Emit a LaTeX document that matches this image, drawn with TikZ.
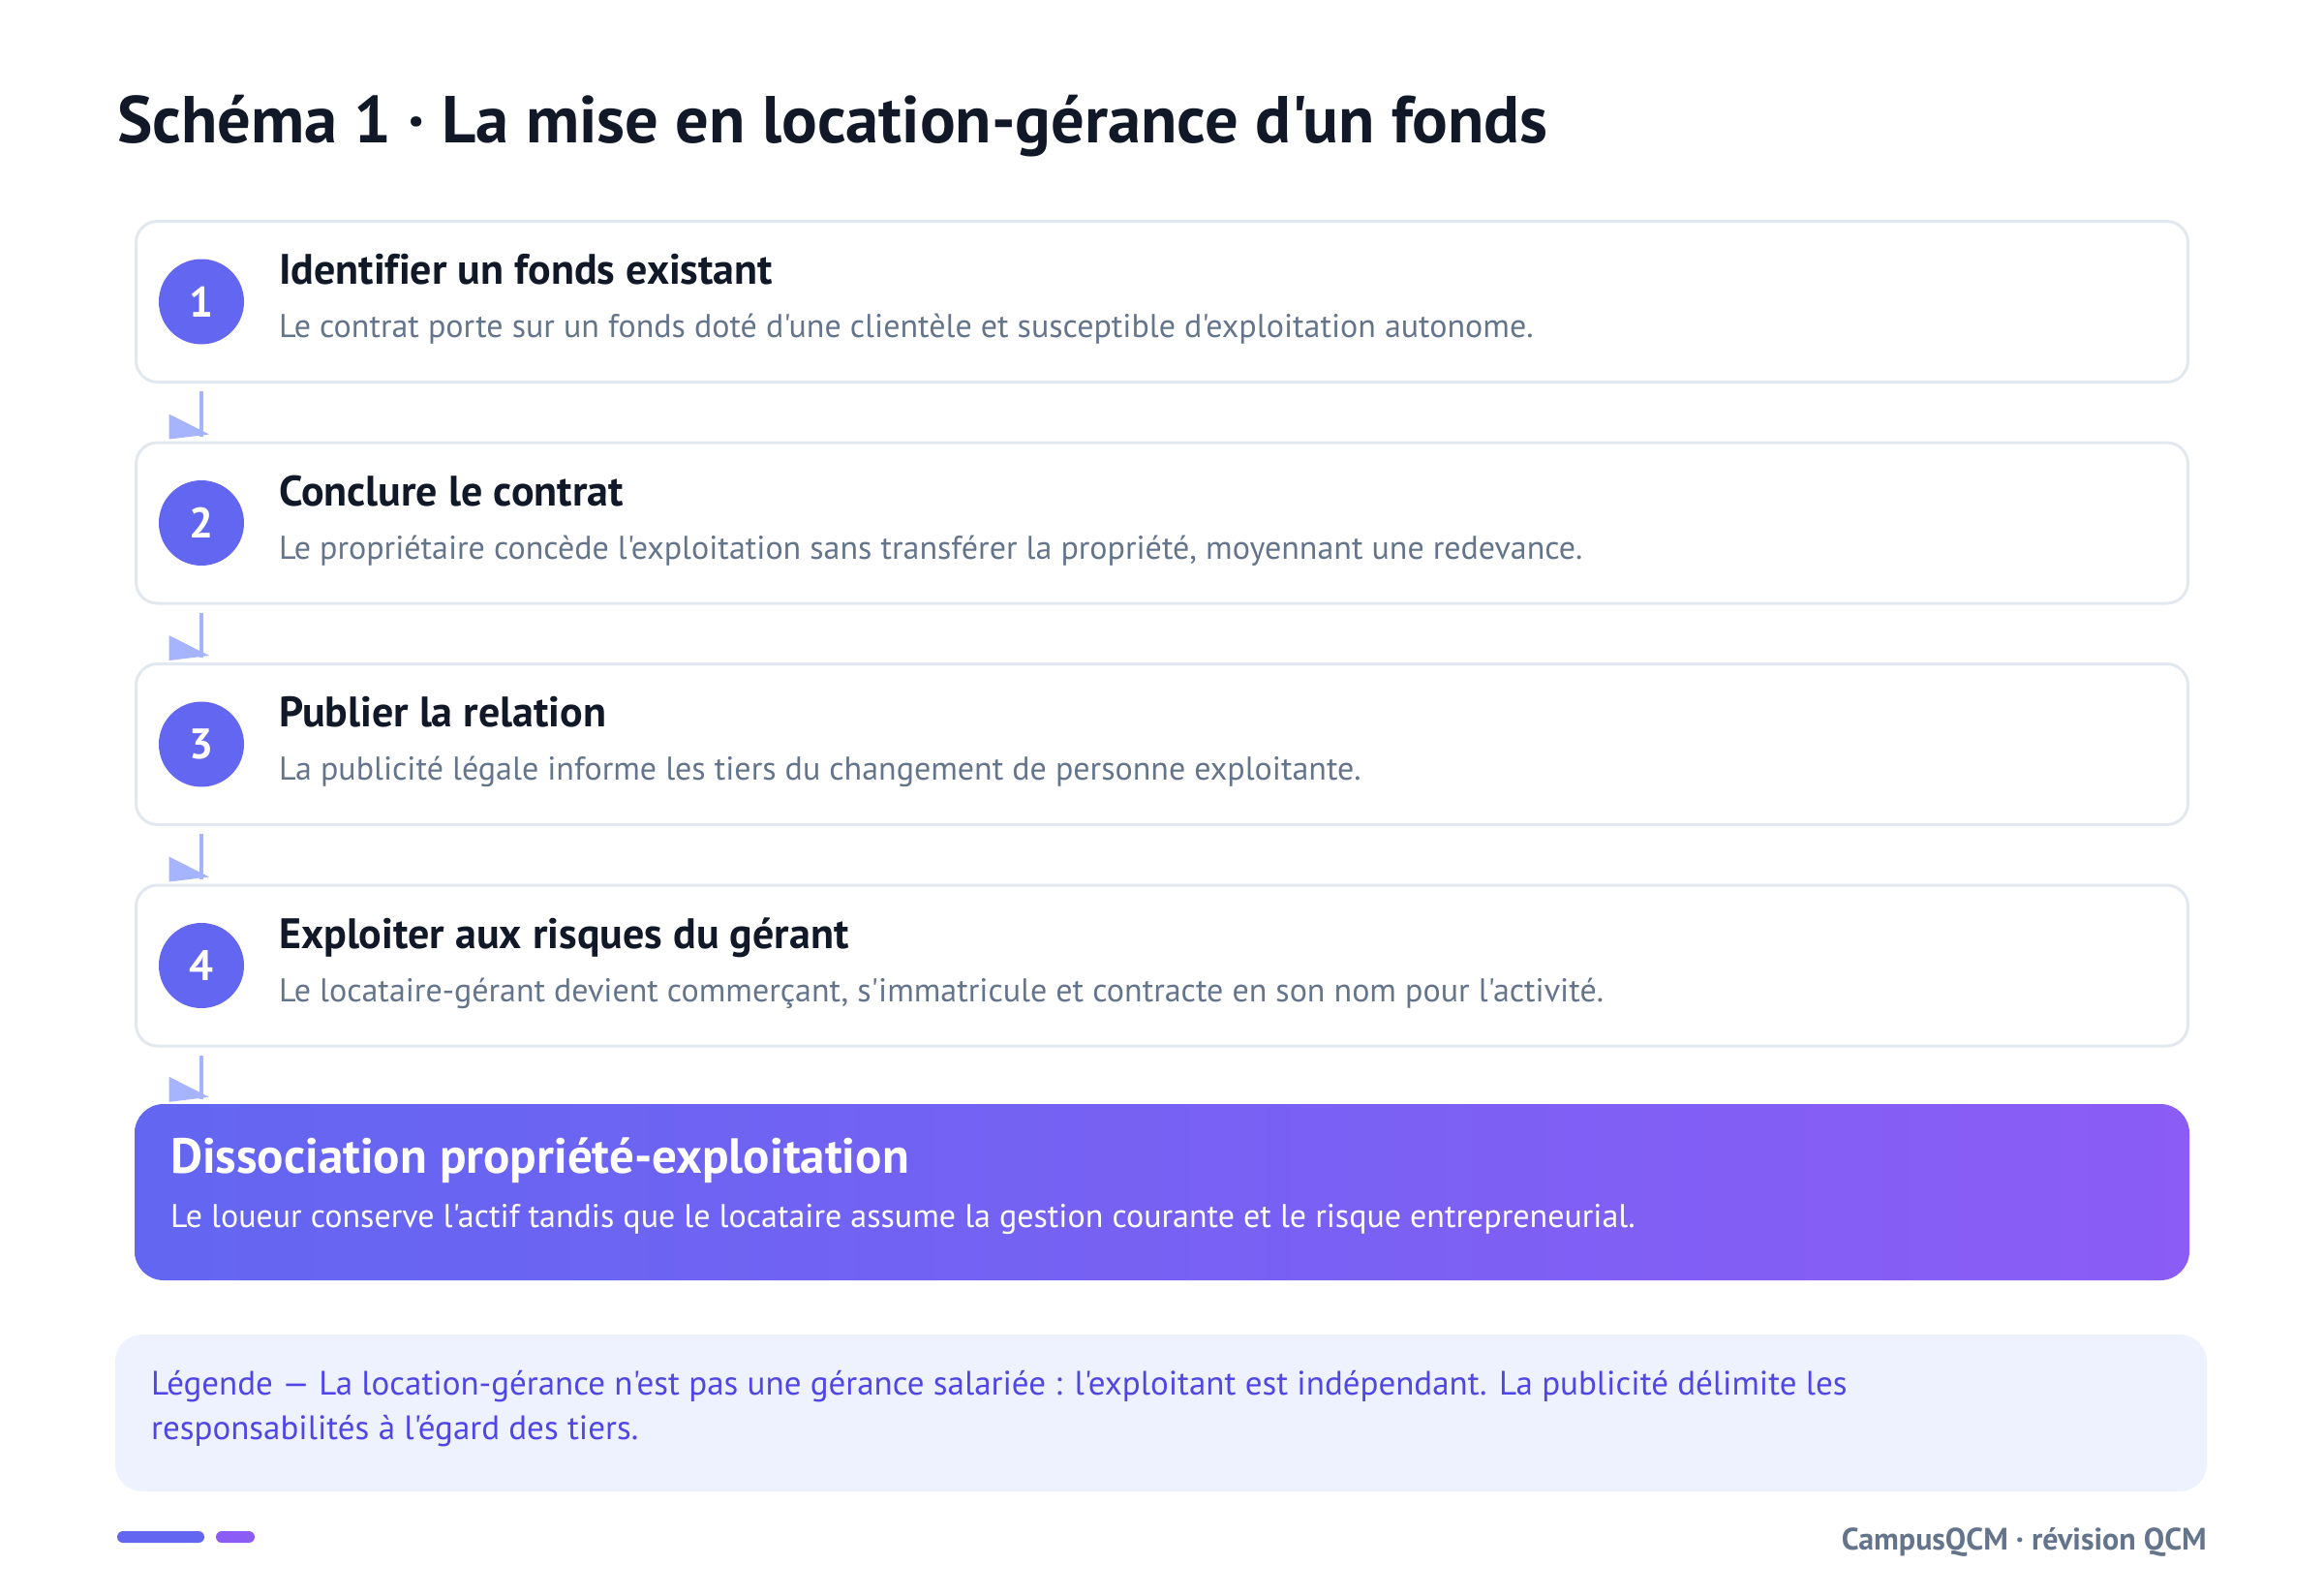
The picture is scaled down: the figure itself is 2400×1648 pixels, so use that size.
\documentclass[tikz,border=0pt]{standalone}
\usepackage{fontspec}
\setmainfont{PT Sans}[Ligatures={TeXOff,CommonOff}]
\usetikzlibrary{positioning,calc}

\definecolor{inkdark}{HTML}{111827}
\definecolor{greytext}{HTML}{64748B}
\definecolor{cardline}{HTML}{E2E8F0}
\definecolor{stepindigo}{HTML}{6366F1}
\definecolor{stepviolet}{HTML}{8B5CF6}
\definecolor{flowblue}{HTML}{A5B4FC}
\definecolor{legendbg}{HTML}{EEF2FF}
\definecolor{legendtext}{HTML}{4F46E5}

\tikzset{
	stepcard/.style={draw=cardline, line width=3pt, fill=white, rounded corners=22pt,
			minimum width=2119pt, minimum height=166pt, inner sep=0pt},
	stepnum/.style={circle, fill=stepindigo, text=white, minimum size=88pt, inner sep=0pt,
			font=\fontsize{44}{52}\selectfont\bfseries},
	stephead/.style={anchor=base west, inner sep=0pt, text=inkdark,
			font=\fontsize{44}{52}\selectfont\bfseries},
	stepdesc/.style={anchor=base west, inner sep=0pt, text=greytext,
			font=\fontsize{34}{40}\selectfont},
	flowline/.style={draw=flowblue, line width=4pt},
	flowhead/.style={fill=flowblue},
}

\begin{document}
\begin{tikzpicture}[x=1pt,y=-1pt]
	\fill[white] (0,0) rectangle (2400,1648);
	\useasboundingbox (0,0) rectangle (2400,1648);

	\node[anchor=base west, inner sep=0pt, text=inkdark, font=\fontsize{68.5}{78}\selectfont\bfseries]
	(title) at (121,148) {Schéma 1 · La mise en location-gérance d'un fonds};

	\foreach \i/\head/\desc in {
			1/{Identifier un fonds existant}/{Le contrat porte sur un fonds doté d'une clientèle et susceptible d'exploitation autonome.},
			2/{Conclure le contrat}/{Le propriétaire concède l'exploitation sans transférer la propriété, moyennant une redevance.},
			3/{Publier la relation}/{La publicité légale informe les tiers du changement de personne exploitante.},
			4/{Exploiter aux risques du gérant}/{Le locataire-gérant devient commerçant, s'immatricule et contracte en son nom pour l'activité.}} {
			\node[stepcard] (card\i) at (1200,{311.5+228.5*(\i-1)}) {};
			\node[stepnum] (num\i) at (208,{311.5+228.5*(\i-1)}) {\i};
			\node[stephead] (head\i) at (288,{293.5+228.5*(\i-1)}) {\head};
			\node[stepdesc] (desc\i) at (288,{348.5+228.5*(\i-1)}) {\desc};
		}

	% bloc final
	\node[minimum width=2122pt, minimum height=182pt, inner sep=0pt, rounded corners=30pt,
		left color=stepindigo, right color=stepviolet] (card5) at (1200,1231) {};
	\node[anchor=base west, inner sep=0pt, text=white, font=\fontsize{51}{58}\selectfont\bfseries]
	(head5) at (176,1211) {Dissociation propriété-exploitation};
	\node[anchor=base west, inner sep=0pt, text=white, font=\fontsize{34}{40}\selectfont]
	(desc5) at (176,1267) {Le loueur conserve l'actif tandis que le locataire assume la gestion courante et le risque entrepreneurial.};

	\foreach \i in {1,...,4} {
			\pgfmathtruncatemacro{\j}{\i+1}
			\draw[flowline] ($(card\i.south -| num1)+(0,8)$) -- ($(card\j.north -| num1)+(0,-5)$) coordinate (tip\i);
			\fill[flowhead] (tip\i) ++(-33.5,-23) -- ++(0,26) -- ++(41.5,-5) -- cycle;
		}

	% legende
	\node[minimum width=2160pt, minimum height=162pt, inner sep=0pt, rounded corners=28pt,
		fill=legendbg] (legend) at (1199,1459) {};
	\node[anchor=base west, inner sep=0pt, align=left, text=legendtext, font=\fontsize{35}{46}\selectfont]
	(legendtext) at (156,1486) {Légende — La location-gérance n'est pas une gérance salariée : l'exploitant est indépendant. La publicité délimite les\\responsabilités à l'égard des tiers.};

	% pied de page
	\fill[stepindigo, rounded corners=6pt] (121,1581) rectangle (211,1593);
	\fill[stepviolet, rounded corners=6pt] (223,1581) rectangle (263,1593);
	\node[anchor=base east, inner sep=0pt, text=greytext, font=\fontsize{32}{38}\selectfont\bfseries]
	(brand) at (2279,1600) {CampusQCM · révision QCM};
\end{tikzpicture}
\end{document}
